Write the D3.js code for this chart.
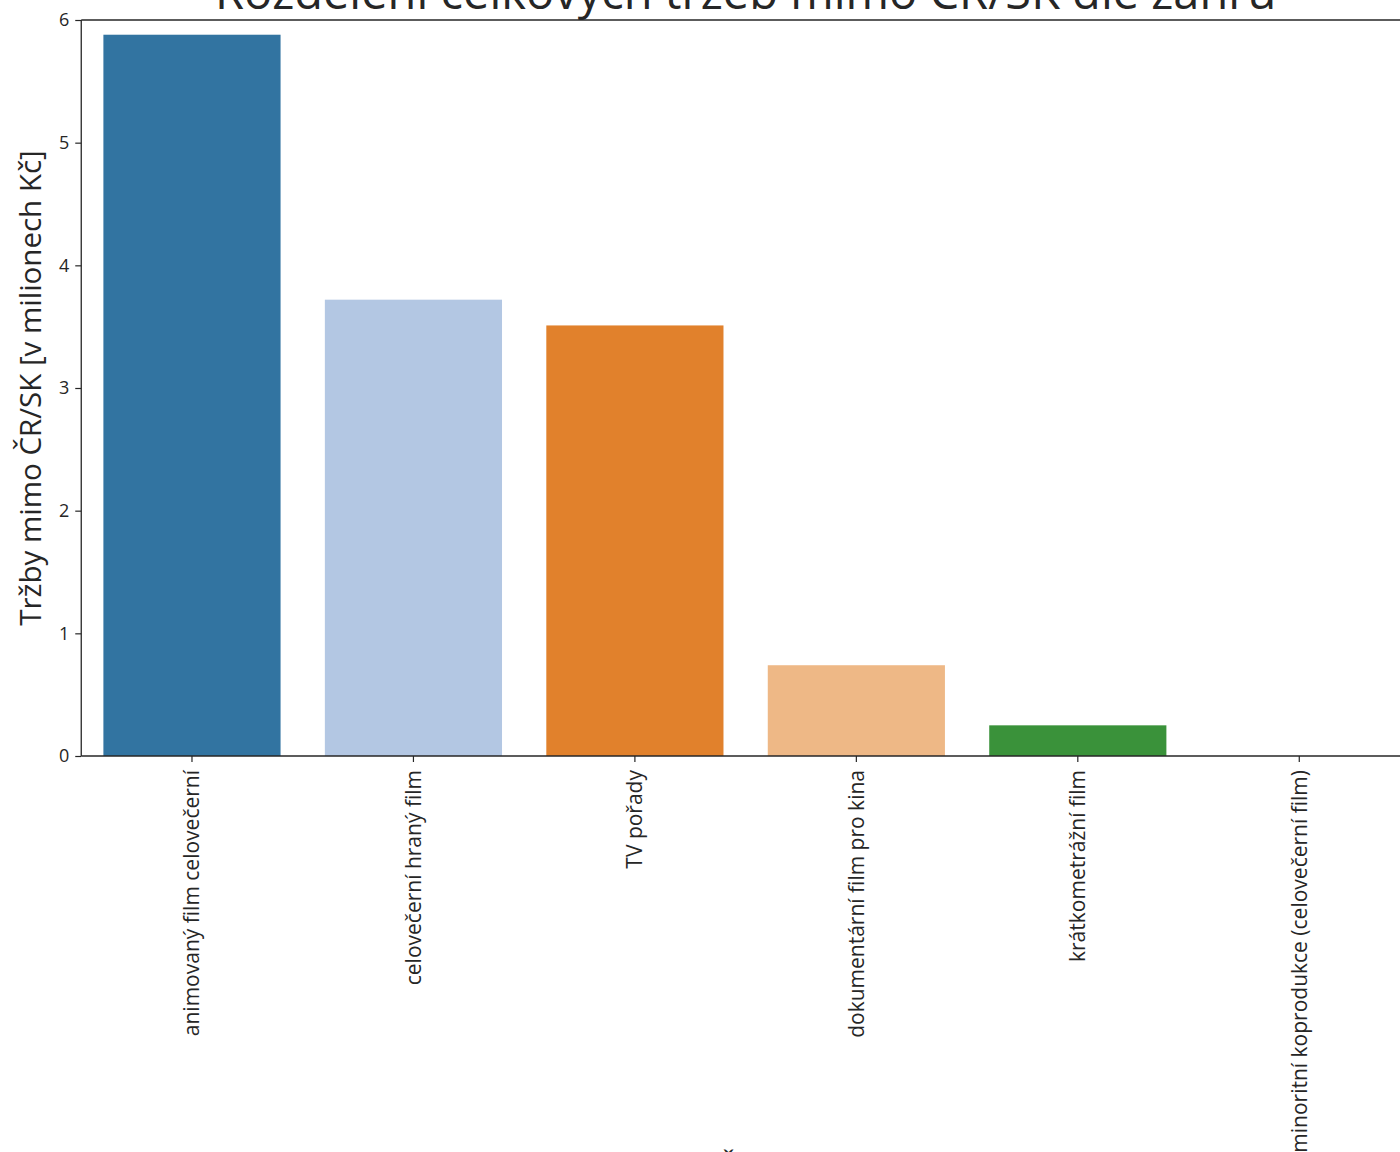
<!DOCTYPE html>
<html><head><meta charset="utf-8">
<script src="https://cdn.jsdelivr.net/npm/d3@7"></script>
<style>body{margin:0;background:#fff;overflow:hidden}svg{display:block}text{font-family:"Open Sans",sans-serif;fill:#262626}</style>
</head><body>
<script>
const categories = ["animovaný film celovečerní","celovečerní hraný film","TV pořady","dokumentární film pro kina","krátkometrážní film","minoritní koprodukce (celovečerní film)"];
const values = [5.88, 3.72, 3.51, 0.74, 0.25, 0.0];
const colors = ["#3274a1","#b3c7e3","#e1812c","#eeb886","#3a923a","#8fcc7d"];
const yTicks = [0,1,2,3,4,5,6];
const title = "Rozdělení celkových tržeb mimo ČR/SK dle žánru";
const yLabel = "Tržby mimo ČR/SK [v milionech Kč]";
const xLabel = "Žánr";

const W = 1400, H = 1152;
const L = 81.25, T = 20, R = 1410, B = 756;
const svg = d3.select("body").append("svg").attr("width", W).attr("height", H);

const x = d3.scaleBand().domain(categories).range([L, R]).paddingInner(0.2).paddingOuter(0.1);
const y = d3.scaleLinear().domain([0, 6]).range([B, T]);

svg.selectAll("rect.bar").data(categories).enter().append("rect")
  .attr("class","bar")
  .attr("x", d => x(d)).attr("width", x.bandwidth())
  .attr("y", (d,i) => y(values[i])).attr("height", (d,i) => y(0) - y(values[i]))
  .attr("fill", (d,i) => colors[i]);

const yAxis = svg.append("g").attr("transform", `translate(${L},0)`)
  .call(d3.axisLeft(y).tickValues(yTicks).tickSize(6).tickPadding(6).tickFormat(d3.format("d")));
yAxis.select(".domain").remove();
yAxis.selectAll("line").attr("stroke","#262626").attr("stroke-width",1.2);
yAxis.selectAll("text").style("font-size","18px").attr("fill","#262626");

const xAxis = svg.append("g").attr("transform", `translate(0,${B})`)
  .call(d3.axisBottom(x).tickSize(6).tickPadding(0));
xAxis.select(".domain").remove();
xAxis.selectAll("line").attr("stroke","#262626").attr("stroke-width",1.2);
xAxis.selectAll("text").style("font-size","21px").attr("fill","#262626")
  .attr("text-anchor","end").attr("dy","0.35em")
  .attr("transform","translate(0,14) rotate(-90)").attr("x",0).attr("y",0);

// spines
svg.append("line").attr("x1",L).attr("x2",L).attr("y1",T).attr("y2",B).attr("stroke","#262626").attr("stroke-width",1.3);
svg.append("line").attr("x1",L).attr("x2",R).attr("y1",B).attr("y2",B).attr("stroke","#262626").attr("stroke-width",1.3);
svg.append("line").attr("x1",L).attr("x2",R).attr("y1",T).attr("y2",T).attr("stroke","#262626").attr("stroke-width",1.3);

svg.append("text").attr("x",(L+R)/2).attr("y",9).attr("text-anchor","middle").style("font-size","47px").text(title);
svg.append("text").attr("transform",`translate(41,${(T+B)/2}) rotate(-90)`).attr("text-anchor","middle").style("font-size","29.5px").text(yLabel);
svg.append("text").attr("x",(L+R)/2 + 6).attr("y",1177).attr("text-anchor","middle").style("font-size","29.5px").text(xLabel);
</script>
</body></html>
